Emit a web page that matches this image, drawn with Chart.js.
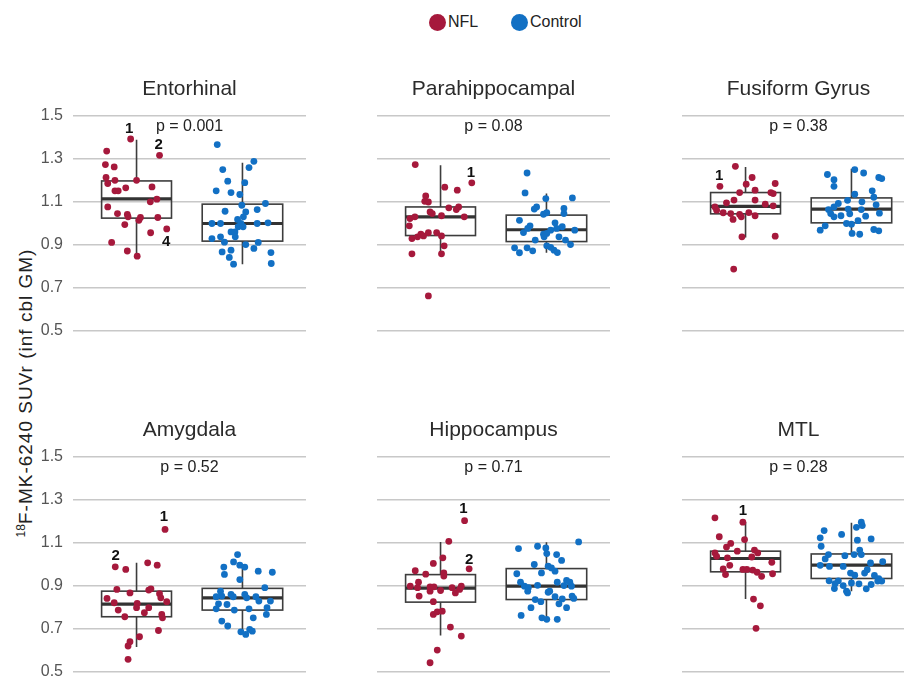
<!DOCTYPE html>
<html>
<head>
<meta charset="utf-8">
<script src="https://cdn.jsdelivr.net/npm/chart.js@4"></script>
<style>
  html, body { margin: 0; padding: 0; background: #fff; width: 904px; height: 678px; overflow: hidden; }
  body { position: relative; font-family: "Liberation Sans", Arial, sans-serif; }
  .panel { position: absolute; }
  #legend { position: absolute; top: 12px; left: 0; width: 904px; height: 20px; font-size: 16px; color: #222; }
  .lg { position: absolute; top: 0; display: flex; align-items: center; height: 20px; }
  .dot { width: 17px; height: 17px; border-radius: 50%; margin-right: 2px; }
  #ytitle { position: absolute; left: 25px; top: 393px; transform: translate(-50%, -50%) rotate(-90deg); white-space: nowrap; font-size: 19px; letter-spacing: 1px; color: #222; }
  #ytitle sup { font-size: 12px; vertical-align: 7px; letter-spacing: 0; }
</style>
</head>
<body>
<div id="legend">
  <div class="lg" style="left:429px"><div class="dot" style="background:#A6193C"></div><span>NFL</span></div>
  <div class="lg" style="left:511px"><div class="dot" style="background:#1270C4"></div><span>Control</span></div>
</div>
<div id="ytitle"><sup>18</sup>F-MK-6240 SUVr (inf cbl GM)</div>

<script>
// ---------- data ----------
const regions = ["Entorhinal", "Parahippocampal", "Fusiform Gyrus", "Amygdala", "Hippocampus", "MTL"];
const pValues = ["p = 0.001", "p = 0.08", "p = 0.38", "p = 0.52", "p = 0.71", "p = 0.28"];
const groups = ["NFL", "Control"];
const yTicks = [0.5, 0.7, 0.9, 1.1, 1.3, 1.5];

// points: [horizontal jitter (x units), SUVr]
const entorhinalNFL = [[-0.056,1.393],[0.217,1.317],[-0.282,1.337],[-0.294,1.274],[-0.211,1.263],[-0.288,1.214],[-0.204,1.201],[-0.272,1.186],[0.0,1.201],[-0.204,1.152],[-0.173,1.152],[-0.102,1.166],[0.146,1.170],[-0.272,1.077],[0.130,1.101],[0.192,1.113],[-0.180,1.046],[-0.087,1.042],[-0.080,1.031],[0.037,1.028],[0.022,1.015],[0.201,1.028],[-0.111,0.995],[0.133,0.957],[0.285,0.975],[-0.235,0.912],[-0.087,0.872],[0.006,0.848]];
const entorhinalCtrl = [[-0.238,1.367],[0.108,1.289],[0.062,1.260],[-0.186,1.251],[-0.139,1.197],[0.022,1.190],[-0.248,1.152],[-0.108,1.144],[-0.025,1.135],[-0.006,1.085],[0.217,1.093],[-0.164,1.057],[0.031,1.054],[0.139,1.065],[0.009,1.031],[-0.288,1.0],[-0.207,1.0],[-0.046,1.019],[-0.015,1.0],[-0.040,0.985],[0.006,0.985],[0.139,1.0],[0.241,1.003],[-0.108,0.961],[-0.071,0.961],[-0.288,0.930],[-0.207,0.938],[-0.068,0.938],[-0.170,0.913],[0.031,0.902],[0.149,0.912],[-0.192,0.868],[-0.108,0.876],[0.108,0.884],[0.269,0.865],[-0.124,0.842],[-0.084,0.811],[0.272,0.814]];
const parahipNFL = [[-0.239,1.274],[0.295,1.189],[0.040,1.169],[0.158,1.155],[-0.140,1.128],[-0.149,1.103],[-0.115,1.100],[0.078,1.073],[0.171,1.077],[0.149,1.065],[-0.099,1.054],[-0.078,1.046],[0.009,1.036],[0.224,1.031],[-0.289,1.023],[-0.242,1.031],[-0.295,0.989],[-0.037,0.958],[-0.270,0.930],[-0.217,0.938],[-0.186,0.950],[-0.161,0.942],[-0.115,0.957],[0.009,0.942],[0.034,0.896],[-0.270,0.859],[0.009,0.859],[-0.115,0.663]];
const parahipCtrl = [[-0.183,1.235],[-0.202,1.142],[-0.006,1.116],[0.245,1.119],[-0.093,1.077],[-0.115,1.067],[0.165,1.070],[0.165,1.046],[-0.028,1.043],[0.003,1.050],[-0.255,1.015],[-0.155,0.989],[-0.177,0.977],[-0.217,0.958],[0.081,1.003],[0.149,0.985],[0.096,0.977],[0.040,0.969],[-0.028,0.950],[0.003,0.954],[0.267,0.969],[-0.106,0.923],[0.180,0.923],[-0.301,0.887],[-0.255,0.864],[-0.183,0.887],[-0.130,0.873],[0.003,0.896],[0.040,0.889],[0.071,0.876],[0.103,0.865],[0.227,0.902],[-0.022,0.938],[0.118,0.938]];
const fusiformNFL = [[-0.096,1.266],[-0.242,1.173],[0.062,1.214],[0.006,1.183],[0.280,1.186],[-0.056,1.144],[0.090,1.155],[0.239,1.144],[0.261,1.139],[-0.180,1.096],[-0.109,1.109],[0.090,1.109],[-0.289,1.077],[-0.273,1.062],[0.186,1.090],[0.261,1.082],[-0.211,1.050],[-0.140,1.046],[-0.056,1.042],[-0.040,1.031],[0.031,1.051],[0.090,1.036],[-0.118,1.019],[-0.034,0.938],[0.280,0.941],[-0.112,0.788]];
const fusiformCtrl = [[-0.227,1.228],[-0.165,1.204],[-0.165,1.173],[0.031,1.251],[0.115,1.235],[0.258,1.214],[0.286,1.209],[0.196,1.152],[0.031,1.136],[-0.124,1.093],[-0.165,1.077],[-0.037,1.108],[0.099,1.101],[0.211,1.122],[-0.217,1.065],[-0.196,1.046],[-0.165,1.031],[-0.099,1.036],[-0.031,1.067],[-0.016,1.045],[0.093,1.065],[0.134,1.034],[0.233,1.087],[0.264,1.048],[-0.047,1.0],[0.0,0.997],[0.062,1.013],[-0.248,0.989],[-0.295,0.969],[0.006,0.954],[0.078,0.950],[0.211,0.972],[0.258,0.966]];
const amygdalaNFL = [[0.269,1.163],[-0.201,0.989],[-0.102,0.977],[0.105,1.008],[0.195,0.997],[-0.186,0.884],[-0.062,0.868],[0.115,0.881],[0.136,0.887],[0.217,0.864],[0.229,0.845],[-0.279,0.842],[-0.211,0.822],[0.006,0.819],[0.0,0.799],[0.285,0.827],[-0.173,0.788],[0.115,0.799],[0.074,0.776],[-0.111,0.757],[0.238,0.768],[0.245,0.752],[0.207,0.693],[0.028,0.664],[-0.062,0.641],[-0.080,0.621],[-0.080,0.559]];
const amygdalaCtrl = [[-0.046,1.046],[-0.084,1.012],[-0.176,0.988],[-0.170,0.954],[-0.025,0.997],[0.022,0.988],[0.149,0.969],[0.282,0.964],[-0.025,0.930],[0.211,0.892],[-0.207,0.876],[-0.195,0.853],[-0.108,0.861],[-0.087,0.850],[0.022,0.861],[0.040,0.845],[0.127,0.850],[-0.248,0.850],[-0.226,0.817],[-0.146,0.814],[-0.248,0.794],[-0.077,0.788],[0.062,0.794],[0.155,0.830],[0.264,0.830],[0.232,0.799],[0.226,0.768],[0.102,0.752],[-0.195,0.737],[-0.139,0.714],[-0.015,0.687],[0.068,0.698],[0.093,0.690],[0.031,0.675]];
const hippoNFL = [[0.227,1.204],[0.078,1.108],[0.022,1.031],[-0.068,1.005],[0.270,0.980],[-0.239,0.971],[-0.140,0.955],[0.031,0.961],[0.031,0.946],[-0.208,0.918],[-0.286,0.899],[-0.217,0.892],[-0.202,0.853],[-0.099,0.876],[-0.099,0.896],[-0.062,0.896],[0.0,0.879],[0.109,0.892],[0.140,0.868],[0.196,0.899],[0.180,0.884],[-0.068,0.827],[-0.068,0.768],[-0.031,0.780],[0.016,0.783],[0.093,0.709],[0.196,0.667],[-0.031,0.602],[-0.099,0.543]];
const hippoCtrl = [[0.304,1.105],[-0.264,1.074],[-0.084,1.085],[-0.006,1.077],[0.003,1.051],[0.096,1.046],[0.143,1.019],[-0.115,1.0],[0.016,0.992],[0.047,0.984],[-0.047,0.961],[0.081,0.969],[-0.280,0.957],[-0.245,0.918],[-0.208,0.899],[-0.177,0.876],[-0.171,0.892],[-0.084,0.903],[0.016,0.871],[0.031,0.876],[0.102,0.918],[0.165,0.902],[0.190,0.926],[0.221,0.918],[0.236,0.899],[0.242,0.853],[0.258,0.842],[-0.106,0.837],[-0.053,0.827],[0.081,0.850],[0.149,0.840],[0.118,0.817],[0.190,0.799],[-0.146,0.799],[-0.239,0.763],[-0.043,0.752],[0.003,0.745],[0.102,0.745]];
const mtlNFL = [[-0.289,1.217],[-0.025,1.197],[-0.248,1.129],[-0.009,1.116],[-0.180,1.081],[-0.140,1.098],[-0.078,1.062],[-0.289,1.054],[-0.273,1.038],[-0.171,1.031],[0.084,1.067],[0.115,1.054],[0.059,1.035],[-0.149,0.996],[0.248,1.010],[-0.211,0.979],[-0.189,0.953],[-0.025,0.977],[0.012,0.977],[0.068,0.974],[0.109,0.964],[0.152,0.945],[0.255,0.957],[0.075,0.839],[0.140,0.808],[0.099,0.703]];
const mtlCtrl = [[0.093,1.197],[0.102,1.181],[0.047,1.173],[-0.258,1.158],[-0.093,1.140],[0.186,1.119],[-0.295,1.124],[-0.286,1.085],[0.056,1.113],[-0.217,1.046],[-0.248,1.026],[-0.062,1.041],[0.025,1.046],[0.078,1.067],[0.093,1.046],[-0.295,0.996],[-0.208,0.991],[-0.078,0.991],[0.180,1.007],[0.295,1.013],[0.149,0.976],[0.124,0.960],[-0.009,0.960],[0.031,0.950],[-0.124,0.924],[-0.211,0.924],[0.217,0.949],[0.258,0.934],[0.286,0.923],[0.248,0.923],[-0.155,0.911],[-0.161,0.888],[-0.078,0.902],[0.0,0.914],[0.071,0.910],[0.186,0.907],[0.140,0.887],[-0.047,0.876],[-0.037,0.868]];

// box stats: [lower whisker, Q1, median, Q3, upper whisker]  (NFL, Control)
const entorhinalBox = [[0.845,1.025,1.115,1.198,1.390],[0.810,0.918,1.000,1.090,1.283]];
const parahipBox    = [[0.856,0.944,1.031,1.077,1.271],[0.864,0.916,0.971,1.039,1.139]];
const fusiformBox   = [[0.935,1.045,1.080,1.144,1.263],[0.954,1.003,1.067,1.119,1.255]];
const amygdalaBox   = [[0.616,0.757,0.816,0.876,1.008],[0.690,0.788,0.845,0.889,0.985]];
const hippoBox      = [[0.670,0.825,0.890,0.953,1.105],[0.745,0.837,0.899,0.981,1.104]];
const mtlBox        = [[0.839,0.966,1.028,1.062,1.197],[0.876,0.935,0.997,1.049,1.194]];

// subject labels: [text, x, SUVr]
const entorhinalLbl = [["1",0.93,1.441],["2",1.21,1.364],["4",1.28,0.915]];
const parahipLbl    = [["1",1.286,1.235]];
const fusiformLbl   = [["1",0.75,1.22]];
const amygdalaLbl   = [["1",1.258,1.221],["2",0.803,1.039]];
const hippoLbl      = [["1",1.217,1.259],["2",1.27,1.023]];
const mtlLbl        = [["1",0.975,1.249]];

// ---------- rendering ----------
const NFL_COLOR = "#A6193C", CTRL_COLOR = "#1270C4";
const FONT = "'Liberation Sans', Arial, sans-serif";
const panelPoints = [[entorhinalNFL, entorhinalCtrl],[parahipNFL, parahipCtrl],[fusiformNFL, fusiformCtrl],[amygdalaNFL, amygdalaCtrl],[hippoNFL, hippoCtrl],[mtlNFL, mtlCtrl]];
const panelBoxes = [entorhinalBox, parahipBox, fusiformBox, amygdalaBox, hippoBox, mtlBox];
const panelLabels = [entorhinalLbl, parahipLbl, fusiformLbl, amygdalaLbl, hippoLbl, mtlLbl];

const boxPlugin = {
  id: 'boxes',
  beforeDatasetsDraw(chart, args, opts) {
    const { ctx, scales: { x, y } } = chart;
    opts.stats.forEach((b, i) => {
      const c = i + 1, hw = opts.halfWidths[i];
      const xl = x.getPixelForValue(c - hw), xr = x.getPixelForValue(c + hw), xc = x.getPixelForValue(c);
      const [lo, q1, med, q3, hi] = b.map(v => y.getPixelForValue(v));
      ctx.save();
      ctx.strokeStyle = '#3d3d3d';
      ctx.lineWidth = 1.6;
      ctx.beginPath();
      ctx.moveTo(xc, hi); ctx.lineTo(xc, q3);
      ctx.moveTo(xc, q1); ctx.lineTo(xc, lo);
      ctx.stroke();
      ctx.strokeRect(xl, q3, xr - xl, q1 - q3);
      ctx.lineWidth = 3.2;
      ctx.strokeStyle = '#333';
      ctx.beginPath();
      ctx.moveTo(xl, med); ctx.lineTo(xr, med);
      ctx.stroke();
      ctx.restore();
    });
  }
};

const textPlugin = {
  id: 'texts',
  afterDatasetsDraw(chart, args, opts) {
    const { ctx, chartArea, scales: { x, y } } = chart;
    ctx.save();
    ctx.textAlign = 'center';
    ctx.textBaseline = 'middle';
    const cx = (chartArea.left + chartArea.right) / 2;
    ctx.fillStyle = '#2b2b2b';
    ctx.font = "21px " + FONT;
    ctx.fillText(opts.title, cx, chartArea.top - 27);
    ctx.fillStyle = '#222';
    ctx.font = "16px " + FONT;
    ctx.fillText(opts.p, cx, y.getPixelForValue(1.452));
    ctx.font = "bold 15px " + FONT;
    ctx.fillStyle = '#111';
    opts.labels.forEach(([t, lx, ly]) => ctx.fillText(t, x.getPixelForValue(lx), y.getPixelForValue(ly)));
    ctx.restore();
  }
};

const colLefts = [73, 377, 682];
const rowTops = [116, 457];
const AREA_W = 237, AREA_H = 215, AXIS_W = 60, PAD_TOP = 56, PAD_BOT = 26;

regions.forEach((name, idx) => {
  const col = idx % 3, row = Math.floor(idx / 3);
  const div = document.createElement('div');
  div.className = 'panel';
  div.style.left = (colLefts[col] - AXIS_W) + 'px';
  div.style.top = (rowTops[row] - PAD_TOP) + 'px';
  div.style.width = (AXIS_W + AREA_W) + 'px';
  div.style.height = (PAD_TOP + AREA_H + PAD_BOT) + 'px';
  const canvas = document.createElement('canvas');
  div.appendChild(canvas);
  document.body.appendChild(div);

  const [nflPts, ctrlPts] = panelPoints[idx];
  new Chart(canvas, {
    type: 'scatter',
    data: {
      datasets: [
        { label: groups[0], data: nflPts.map(([j, v]) => ({ x: 1 + j, y: v })), backgroundColor: NFL_COLOR, borderWidth: 0, pointRadius: 3.4, clip: false },
        { label: groups[1], data: ctrlPts.map(([j, v]) => ({ x: 2 + j, y: v })), backgroundColor: CTRL_COLOR, borderWidth: 0, pointRadius: 3.4, clip: false }
      ]
    },
    options: {
      responsive: true,
      maintainAspectRatio: false,
      animation: false,
      devicePixelRatio: 1,
      layout: { padding: { top: PAD_TOP, bottom: PAD_BOT, left: 0, right: 0 } },
      plugins: {
        legend: { display: false },
        tooltip: { enabled: false },
        boxes: { stats: panelBoxes[idx], halfWidths: [0.33, 0.38] },
        texts: { title: name, p: pValues[idx], labels: panelLabels[idx] }
      },
      scales: {
        x: { type: 'linear', min: 0.4, max: 2.6, display: false },
        y: {
          type: 'linear', min: 0.5, max: 1.5,
          afterFit(scale) { scale.width = AXIS_W; },
          afterBuildTicks(scale) { scale.ticks = yTicks.map(v => ({ value: v })); },
          border: { display: false },
          grid: { color: '#c8c8c8', lineWidth: 1.4, drawTicks: false },
          ticks: {
            display: col === 0,
            padding: 10,
            color: '#555',
            font: { family: FONT, size: 16 },
            callback: v => Number(v).toFixed(1)
          }
        }
      }
    },
    plugins: [boxPlugin, textPlugin]
  });
});
</script>
</body>
</html>
